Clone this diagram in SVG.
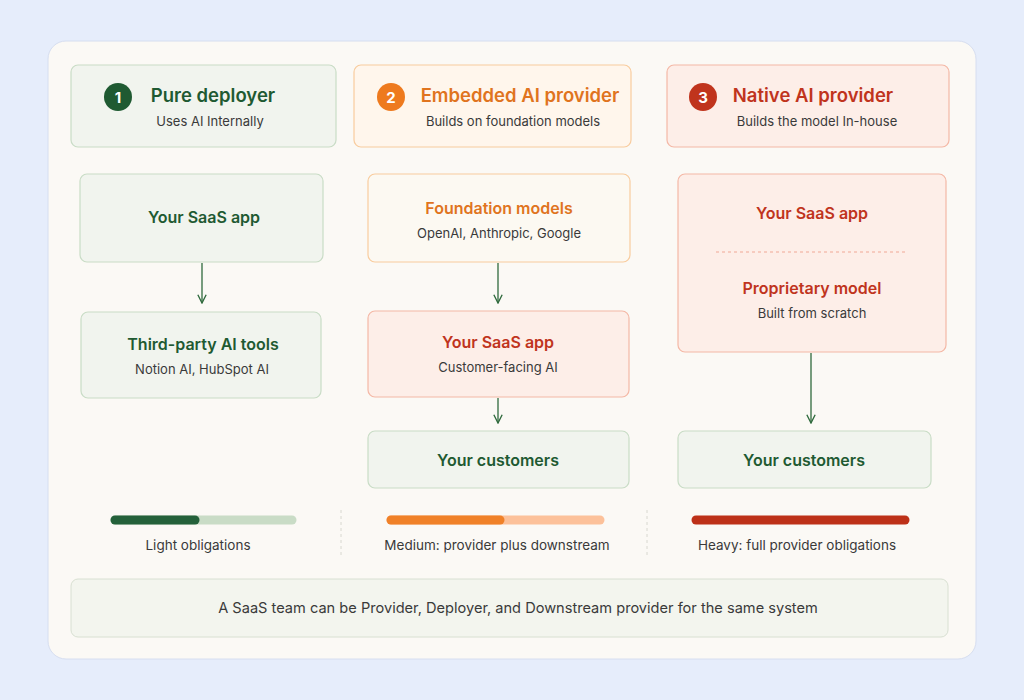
<svg xmlns="http://www.w3.org/2000/svg" width="1024" height="700" viewBox="0 0 1024 700">
<style>
text{font-family:Inter,"Liberation Sans",sans-serif;text-anchor:middle}
.t{font-size:16px;font-weight:600}
.s{font-size:13px;fill:#3a3a3a}
.g{fill:#1f5a32}.o{fill:#e0741e}.r{fill:#c0341d}
.bg{fill:#f1f4ee;stroke:#c9dcc6;stroke-width:1.2}
.bo{fill:#fff6ec;stroke:#f8cc9e;stroke-width:1.2}
.bp{fill:#fdeee8;stroke:#f4b8a6;stroke-width:1.2}
.bw{fill:#fcf9f2;stroke:#f8cc9e;stroke-width:1.2}
.c{stroke:#2f6a3d;stroke-width:1.3;fill:none}
.h{font-size:18.5px;font-weight:600}
.l{font-size:13.5px;fill:#3a3a3a}
.n{font-size:14.6px;fill:#3a3a3a}
</style>
<defs><marker id="a" viewBox="0 0 10 10" refX="9" refY="5" markerWidth="8" markerHeight="8" orient="auto"><path d="M1 1L9 5L1 9" fill="none" stroke="#2f6a3d" stroke-width="1.3"/></marker></defs>
<rect width="1024" height="700" fill="#e6edfb"/>
<rect x="48" y="41" width="928" height="618" rx="18" fill="#fbf9f5" stroke="#d6def0"/>
<g id="h1"><rect class="bg" x="71" y="65" width="265" height="82" rx="7"/><circle cx="118" cy="97" r="14" fill="#1f5a32"/><text x="118" y="102.5" fill="#fff" font-size="15" font-weight="700" font-family="Inter,'Liberation Sans',sans-serif">1</text><text class="h g" x="213" y="102">Pure deployer</text><text class="s" x="210" y="126">Uses AI Internally</text></g>
<g id="h2"><rect class="bo" x="354" y="65" width="277" height="82" rx="7"/><circle cx="391" cy="97" r="14" fill="#ee7a1e"/><text x="391" y="102.5" fill="#fff" font-size="15" font-weight="700" font-family="Inter,'Liberation Sans',sans-serif">2</text><text class="h o" x="520" y="102">Embedded AI provider</text><text class="s" x="513" y="126">Builds on foundation models</text></g>
<g id="h3"><rect class="bp" x="667" y="65" width="282" height="82" rx="7"/><circle cx="703" cy="97" r="14" fill="#c0341d"/><text x="703" y="102.5" fill="#fff" font-size="15" font-weight="700" font-family="Inter,'Liberation Sans',sans-serif">3</text><text class="h r" x="813" y="102">Native AI provider</text><text class="s" x="817" y="126">Builds the model In-house</text></g>
<g id="n1"><rect class="bg" x="80" y="174" width="243" height="88" rx="7"/><text class="t g" x="204" y="223">Your SaaS app</text></g>
<g id="n2"><rect class="bg" x="81" y="312" width="240" height="86" rx="7"/><text class="t g" x="203" y="350">Third-party AI tools</text><text class="s" x="202" y="374">Notion AI, HubSpot AI</text></g>
<g id="n3"><rect class="bw" x="368" y="174" width="262" height="88" rx="7"/><text class="t o" x="499" y="214">Foundation models</text><text class="s" x="499" y="238">OpenAI, Anthropic, Google</text></g>
<g id="n4"><rect class="bp" x="368" y="311" width="261" height="86" rx="7"/><text class="t r" x="498" y="348">Your SaaS app</text><text class="s" x="498" y="372">Customer-facing AI</text></g>
<g id="n5"><rect class="bg" x="368" y="431" width="261" height="57" rx="7"/><text class="t g" x="498" y="466">Your customers</text></g>
<g id="n6"><rect class="bp" x="678" y="174" width="268" height="178" rx="7"/><text class="t r" x="812" y="219">Your SaaS app</text><line x1="716" y1="252" x2="908" y2="252" stroke="#f0a896" stroke-dasharray="3 3"/><text class="t r" x="812" y="294">Proprietary model</text><text class="s" x="812" y="318">Built from scratch</text></g>
<g id="n7"><rect class="bg" x="678" y="431" width="253" height="57" rx="7"/><text class="t g" x="804" y="466">Your customers</text></g>
<g id="edges"><line class="c" x1="202" y1="263" x2="202" y2="303" marker-end="url(#a)"/><line class="c" x1="498" y1="263" x2="498" y2="303" marker-end="url(#a)"/><line class="c" x1="498" y1="398" x2="498" y2="423" marker-end="url(#a)"/><line class="c" x1="811" y1="353" x2="811" y2="423" marker-end="url(#a)"/></g>
<g id="bars" stroke-linecap="round" stroke-width="9">
<line x1="115" y1="520" x2="292" y2="520" stroke="#c9dcc6"/><line x1="115" y1="520" x2="195" y2="520" stroke="#24613a"/>
<line x1="391" y1="520" x2="600" y2="520" stroke="#fcc19a"/><line x1="391" y1="520" x2="500" y2="520" stroke="#f08128"/>
<line x1="696" y1="520" x2="905" y2="520" stroke="#bd3118"/>
</g>
<line x1="341" y1="510" x2="341" y2="556" stroke="#d8d8d0" stroke-dasharray="3 3"/>
<line x1="647" y1="510" x2="647" y2="556" stroke="#d8d8d0" stroke-dasharray="3 3"/>
<text class="l" x="198" y="550">Light obligations</text>
<text class="l" x="497" y="550">Medium: provider plus downstream</text>
<text class="l" x="797" y="550">Heavy: full provider obligations</text>
<g id="note"><rect x="71" y="579" width="877" height="58" rx="7" fill="#f3f5ee" stroke="#d8e0d2"/><text class="n" x="518" y="613">A SaaS team can be Provider, Deployer, and Downstream provider for the same system</text></g>
</svg>
